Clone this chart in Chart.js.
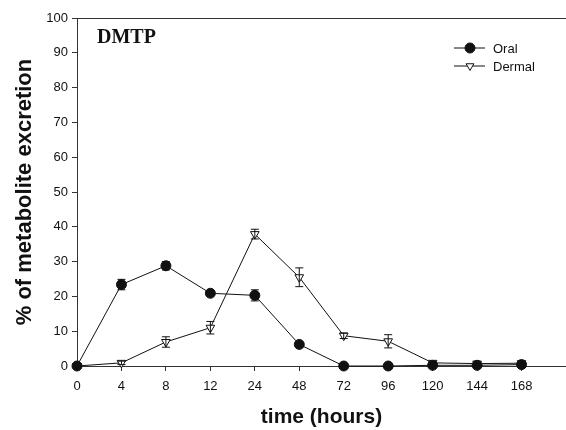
<!DOCTYPE html>
<html>
<head>
<meta charset="utf-8">
<script src="https://cdn.jsdelivr.net/npm/chart.js@4"></script>
<style>
  html, body { margin: 0; padding: 0; background: #fff; }
  #wrap { width: 566px; height: 430px; }
</style>
</head>
<body>
<div id="wrap"><canvas id="chart" width="566" height="430"></canvas></div>
<script>
// time points (hours), drawn equally spaced
const hours = ['0', '4', '8', '12', '24', '48', '72', '96', '120', '144', '168'];
// % of metabolite excretion
const oral = [0, 23.4, 28.8, 20.9, 20.3, 6.2, 0, 0, 0.2, 0.2, 0.4];
const oralErr = [0, 1.5, 1.2, 0.6, 1.6, 0.5, 0, 0, 0, 0, 0];
const dermal = [0, 0.9, 6.9, 11.0, 37.9, 25.5, 8.7, 7.1, 0.9, 0.7, 0.8];
const dermalErr = [0, 0.5, 1.5, 1.8, 1.4, 2.7, 0.8, 1.9, 0.3, 0.3, 0.3];
const yTicks = [0, 10, 20, 30, 40, 50, 60, 70, 80, 90, 100];

const ink = '#111';
const axisInk = '#333';
const tickFont = { family: 'Liberation Sans', size: 13 };

const toPoints = (vals) => vals.map((v, i) => ({ x: i, y: v }));

// error bars, drawn through the scales
const errorBars = {
    id: 'errorBars',
    afterDatasetsDraw(chart) {
        const { ctx, scales: { x, y } } = chart;
        const errs = [oralErr, dermalErr];
        const vals = [oral, dermal];
        ctx.save();
        ctx.strokeStyle = ink;
        ctx.lineWidth = 1;
        errs.forEach((errArr, d) => {
            errArr.forEach((e, i) => {
                if (!e) return;
                const px = x.getPixelForValue(i);
                const top = y.getPixelForValue(vals[d][i] + e);
                const bot = y.getPixelForValue(vals[d][i] - e);
                ctx.beginPath();
                ctx.moveTo(px, top); ctx.lineTo(px, bot);
                ctx.moveTo(px - 4, top); ctx.lineTo(px + 4, top);
                ctx.moveTo(px - 4, bot); ctx.lineTo(px + 4, bot);
                ctx.stroke();
            });
        });
        ctx.restore();
    }
};

// frame top line, panel label and in-plot legend
const decorations = {
    id: 'decorations',
    afterDraw(chart) {
        const { ctx, chartArea } = chart;
        ctx.save();
        ctx.strokeStyle = axisInk;
        ctx.lineWidth = 1;
        ctx.beginPath();
        ctx.moveTo(chartArea.left, chartArea.top + 0.5);
        ctx.lineTo(chartArea.right, chartArea.top + 0.5);
        ctx.stroke();

        ctx.fillStyle = ink;
        ctx.font = 'bold 20px "Liberation Serif"';
        ctx.textBaseline = 'alphabetic';
        ctx.fillText('DMTP', 97, 43);

        const items = [
            { label: 'Oral', style: 'circle', radius: 5, rot: 0, fill: ink },
            { label: 'Dermal', style: 'triangle', radius: 4.5, rot: 180, fill: '#fff' }
        ];
        ctx.font = '13px "Liberation Sans"';
        ctx.textBaseline = 'middle';
        items.forEach((it, k) => {
            const yy = 48 + k * 18;
            ctx.strokeStyle = ink;
            ctx.lineWidth = 1;
            ctx.beginPath();
            ctx.moveTo(454, yy); ctx.lineTo(485, yy);
            ctx.stroke();
            ctx.fillStyle = it.fill;
            Chart.helpers.drawPoint(ctx, { pointStyle: it.style, radius: it.radius, rotation: it.rot, borderWidth: 1 }, 470, yy);
            ctx.fillStyle = ink;
            ctx.fillText(it.label, 493, yy + 1);
        });
        ctx.restore();
    }
};

new Chart(document.getElementById('chart'), {
    type: 'line',
    data: {
        datasets: [
            {
                label: 'Oral',
                data: toPoints(oral),
                borderColor: ink,
                borderWidth: 1,
                backgroundColor: ink,
                pointStyle: 'circle',
                pointRadius: 5,
                pointBorderColor: ink,
                pointBackgroundColor: ink,
                tension: 0,
                clip: false
            },
            {
                label: 'Dermal',
                data: toPoints(dermal),
                borderColor: ink,
                borderWidth: 1,
                backgroundColor: '#fff',
                pointStyle: 'triangle',
                pointRotation: 180,
                pointRadius: 5,
                pointBorderColor: ink,
                pointBackgroundColor: '#fff',
                tension: 0,
                clip: false
            }
        ]
    },
    options: {
        responsive: false,
        animation: false,
        layout: { autoPadding: false, padding: { top: 18, right: 0, left: 0, bottom: 0 } },
        plugins: {
            legend: { display: false },
            tooltip: { enabled: false }
        },
        scales: {
            x: {
                type: 'linear',
                min: 0,
                max: 11,
                afterBuildTicks: (scale) => {
                    scale.ticks = hours.map((h, i) => ({ value: i }));
                },
                afterFit: (scale) => {
                    scale.height = 64;
                    scale.paddingRight = 0;
                    scale.paddingLeft = 0;
                },
                ticks: {
                    autoSkip: false,
                    maxRotation: 0,
                    padding: 8,
                    color: ink,
                    font: tickFont,
                    callback: (v) => hours[v] ?? ''
                },
                grid: { drawOnChartArea: false, drawTicks: true, tickLength: 5, color: axisInk },
                border: { display: true, color: axisInk, width: 1 },
                title: {
                    display: true,
                    text: 'time (hours)',
                    color: ink,
                    font: { family: 'Liberation Sans', size: 21, weight: 'bold' },
                    padding: { top: 0, bottom: 0 }
                }
            },
            y: {
                min: 0,
                max: 100,
                afterBuildTicks: (scale) => {
                    scale.ticks = yTicks.map((v) => ({ value: v }));
                },
                afterFit: (scale) => {
                    scale.width = 77;
                    scale.paddingTop = 0;
                    scale.paddingBottom = 0;
                },
                ticks: {
                    padding: 4,
                    color: ink,
                    font: tickFont
                },
                grid: { drawOnChartArea: false, drawTicks: true, tickLength: 5, color: axisInk },
                border: { display: true, color: axisInk, width: 1 },
                title: {
                    display: true,
                    text: '% of metabolite excretion',
                    color: ink,
                    font: { family: 'Liberation Sans', size: 22, weight: 'bold' },
                    padding: { top: 12, bottom: 0 }
                }
            }
        }
    },
    plugins: [errorBars, decorations]
});
</script>
</body>
</html>
